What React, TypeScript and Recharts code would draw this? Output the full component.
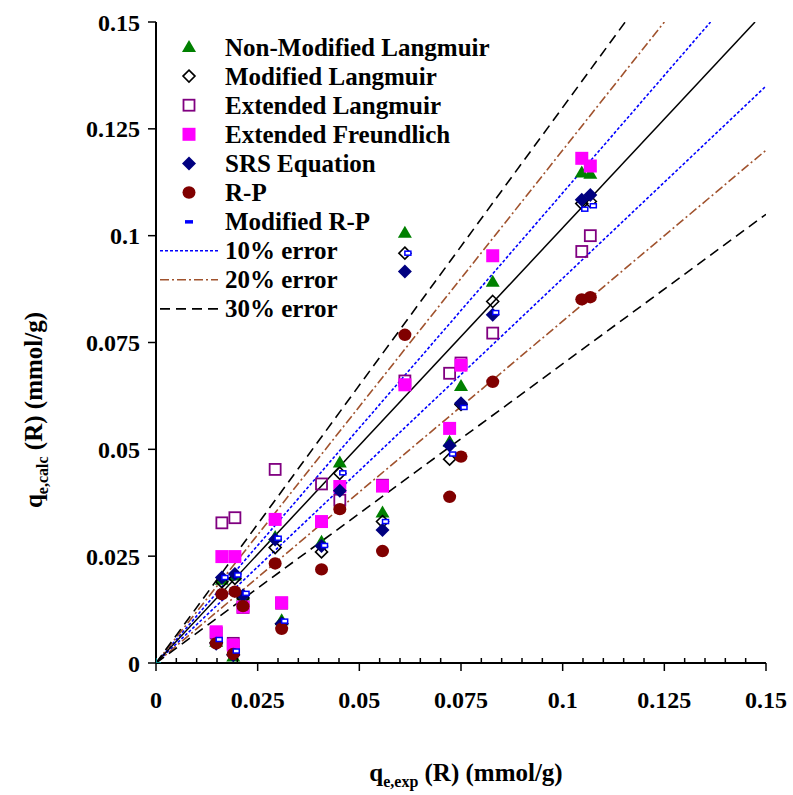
import React from 'react';
import { ScatterChart, Scatter, XAxis, YAxis, Legend, Label } from 'recharts';

// experimental q_e (R), mmol/g
const qExp = [0.0148, 0.0162, 0.019, 0.0194, 0.0214, 0.0293, 0.0309, 0.0407, 0.0452, 0.0557, 0.0612, 0.0722, 0.075, 0.0828, 0.1047, 0.1068];

// calculated q_e (R) for each model
const nonModLangmuir = [0.005, 0.0195, 0.0015, 0.0205, 0.0158, 0.0295, 0.01, 0.0284, 0.0469, 0.0352, 0.1007, 0.0518, 0.0648, 0.0892, 0.1148, 0.1145];
const modLangmuir = [0.0048, 0.019, 0.002, 0.0198, 0.0152, 0.027, 0.0092, 0.026, 0.0444, 0.0331, 0.0959, 0.0477, 0.0605, 0.0846, 0.1075, 0.108];
const extLangmuir = [0.007, 0.0328, 0.0046, 0.034, 0.013, 0.0453, 0.014, 0.0419, 0.0381, 0.0416, 0.066, 0.0678, 0.0702, 0.0772, 0.0963, 0.1];
const extFreundlich = [0.0073, 0.0249, 0.0042, 0.0249, 0.0131, 0.0336, 0.0141, 0.0331, 0.0413, 0.0414, 0.0651, 0.0549, 0.0697, 0.0953, 0.1181, 0.1163];
const srsEquation = [0.0045, 0.02, 0.0018, 0.0208, 0.0158, 0.0289, 0.0092, 0.0274, 0.0403, 0.0311, 0.0916, 0.0509, 0.0608, 0.0815, 0.1084, 0.1095];
const rpModel = [0.0046, 0.0161, 0.0021, 0.0167, 0.0133, 0.0233, 0.008, 0.0219, 0.036, 0.0262, 0.0768, 0.0389, 0.0483, 0.0658, 0.0851, 0.0856];
const modRP = [0.0055, 0.02, 0.0028, 0.0206, 0.0163, 0.0292, 0.0098, 0.0275, 0.0445, 0.0331, 0.0959, 0.0489, 0.0598, 0.082, 0.1062, 0.107];

const originPoint = [{ x: 0, y: 0 }];

const axisMax = 0.15;
const majorTicks = [0, 0.025, 0.05, 0.075, 0.1, 0.125, 0.15];
const minorStep = 0.005;
const xTicksAll = Array.from({ length: 31 }, (_, i) => Math.round(i * minorStep * 1000) / 1000);

const parityEnd = { x: 0.1473, y: 0.15 };
const errorSlopes = [1.1, 0.9, 1.2, 0.8, 1.3, 0.7];

const seriesNames = [
  'Non-Modified Langmuir',
  'Modified Langmuir',
  'Extended Langmuir',
  'Extended Freundlich',
  'SRS Equation',
  'R-P',
  'Modified R-P',
];
const lineNames = ['10% error', '20% error', '30% error'];

const FONT = "'Liberation Serif', 'Times New Roman', Times, serif";

const toPoints = (ys: number[]) => qExp.map((x, i) => ({ x, y: ys[i] }));
const lineEnd = (k: number) => (k > 1 ? { x: axisMax / k, y: axisMax } : { x: axisMax, y: axisMax * k });

type MarkerType = 'tri' | 'odiamond' | 'osquare' | 'fsquare' | 'fdiamond' | 'circle' | 'dash' | 'dashLegend' | 'cross';

const Marker = ({ type, cx, cy }: { type: MarkerType; cx: number; cy: number }) => {
  switch (type) {
    case 'tri':
      return <polygon points={`${cx},${cy - 7} ${cx - 7},${cy + 5} ${cx + 7},${cy + 5}`} fill="#008000" />;
    case 'odiamond':
      return <polygon points={`${cx},${cy - 6} ${cx + 6},${cy} ${cx},${cy + 6} ${cx - 6},${cy}`} fill="none" stroke="#000" strokeWidth={1.6} />;
    case 'osquare':
      return <rect x={cx - 5.5} y={cy - 5.5} width={11} height={11} fill="none" stroke="#800080" strokeWidth={1.8} />;
    case 'fsquare':
      return <rect x={cx - 6.5} y={cy - 6.5} width={13} height={13} fill="#FF00FF" />;
    case 'fdiamond':
      return <polygon points={`${cx},${cy - 7} ${cx + 7},${cy} ${cx},${cy + 7} ${cx - 7},${cy}`} fill="#000080" />;
    case 'circle':
      return <ellipse cx={cx} cy={cy} rx={6.5} ry={6.2} fill="#800000" />;
    case 'dash':
      return <rect x={cx} y={cy - 2} width={6} height={4} fill="#fff" stroke="#0000FF" strokeWidth={1.5} />;
    case 'dashLegend':
      return <rect x={cx - 4} y={cy - 1.5} width={8} height={3.5} fill="#0000FF" />;
    case 'cross':
      return (
        <g stroke="#008080" strokeWidth={2}>
          <line x1={cx - 5} x2={cx + 5} y1={cy} y2={cy} />
          <line x1={cx} x2={cx} y1={cy - 5} y2={cy + 5} />
        </g>
      );
    default:
      return null;
  }
};

const markerTypes: MarkerType[] = ['tri', 'odiamond', 'osquare', 'fsquare', 'fdiamond', 'circle', 'dash'];
const legendMarkerTypes: MarkerType[] = ['tri', 'odiamond', 'osquare', 'fsquare', 'fdiamond', 'circle', 'dashLegend'];
const seriesData = [nonModLangmuir, modLangmuir, extLangmuir, extFreundlich, srsEquation, rpModel, modRP];

const lineStyles = [
  { stroke: '#0000FF', strokeWidth: 1.6, strokeDasharray: '3 2' },
  { stroke: '#A0522D', strokeWidth: 1.6, strokeDasharray: '9 3 2 3' },
  { stroke: '#000000', strokeWidth: 1.6, strokeDasharray: '10 6' },
];

const isMajor = (v: number) => Math.abs(v / 0.025 - Math.round(v / 0.025)) < 1e-6;

const XTick = (props: any) => {
  const { x, y, payload } = props;
  const v = payload.value as number;
  const major = isMajor(v);
  return (
    <g>
      <line x1={x} x2={x} y1={y} y2={major ? y + 8 : y - 5} stroke="#000" strokeWidth={1.5} />
      {major && (
        <text x={x} y={y + 45} textAnchor="middle" fontFamily={FONT} fontWeight="bold" fontSize={24} fill="#000">
          {String(v)}
        </text>
      )}
    </g>
  );
};

const LegendContent = () => {
  const ox = 150;
  const oy = 30;
  const rowY = (i: number) => 47 + i * 29.1 - oy;
  return (
    <svg width={360} height={300} style={{ display: 'block', overflow: 'visible' }}>
      {seriesNames.map((name, i) => (
        <g key={name}>
          <Marker type={legendMarkerTypes[i]} cx={189 - ox} cy={rowY(i)} />
          <text x={225 - ox} y={rowY(i) + 8.5} fontFamily={FONT} fontWeight="bold" fontSize={25} fill="#000">
            {name}
          </text>
        </g>
      ))}
      {lineNames.map((name, j) => {
        const i = j + 7;
        return (
          <g key={name}>
            <line x1={160 - ox} x2={218 - ox} y1={rowY(i)} y2={rowY(i)} {...lineStyles[j]} />
            <text x={225 - ox} y={rowY(i) + 8.5} fontFamily={FONT} fontWeight="bold" fontSize={25} fill="#000">
              {name}
            </text>
          </g>
        );
      })}
    </svg>
  );
};

const emptyShape = () => <g />;

export default function App() {
  const axisLine = { stroke: '#000', strokeWidth: 2 };
  return (
    <div style={{ width: 793, height: 795, background: '#fff' }}>
      <style>{`body{margin:0;background:#fff}`}</style>
      <ScatterChart width={793} height={795} margin={{ top: 22, right: 27, bottom: 72, left: 76 }}>
        <XAxis
          type="number"
          dataKey="x"
          domain={[0, axisMax]}
          ticks={xTicksAll}
          interval={0}
          tickLine={false}
          tickSize={0}
          tickMargin={0}
          tick={<XTick />}
          axisLine={axisLine}
          height={60}
          allowDataOverflow
        >
          <Label
            content={() => (
              <text x={466} y={781} textAnchor="middle" fontFamily={FONT} fontWeight="bold" fontSize={25} fill="#000">
                <tspan>q</tspan>
                <tspan fontSize={16} dy={6}>e,exp</tspan>
                <tspan dy={-6}> (R) (mmol/g)</tspan>
              </text>
            )}
          />
        </XAxis>
        <YAxis
          type="number"
          dataKey="y"
          domain={[0, axisMax]}
          ticks={majorTicks}
          interval={0}
          tickSize={8}
          tickMargin={8}
          tickLine={{ stroke: '#000', strokeWidth: 1.5 }}
          axisLine={axisLine}
          tick={{ fontFamily: FONT, fontWeight: 'bold', fontSize: 24, fill: '#000' }}
          tickFormatter={(v: number) => String(v)}
          width={80}
          allowDataOverflow
        >
          <Label
            content={() => (
              <text
                x={42}
                y={410}
                transform="rotate(-90, 42, 410)"
                textAnchor="middle"
                fontFamily={FONT}
                fontWeight="bold"
                fontSize={25}
                fill="#000"
              >
                <tspan>q</tspan>
                <tspan fontSize={16} dy={6}>e,calc</tspan>
                <tspan dy={-6}> (R) (mmol/g)</tspan>
              </text>
            )}
          />
        </YAxis>
        <XAxis
          xAxisId="top"
          orientation="top"
          type="number"
          domain={[0, axisMax]}
          tick={false}
          tickLine={false}
          axisLine={axisLine}
          height={0}
        />
        <YAxis
          yAxisId="right"
          orientation="right"
          type="number"
          domain={[0, axisMax]}
          tick={false}
          tickLine={false}
          axisLine={axisLine}
          width={0}
        />

        {errorSlopes.map((k, i) => {
          const st = lineStyles[Math.floor(i / 2)];
          return (
            <Scatter
              key={`err-${k}`}
              data={[{ x: 0, y: 0 }, lineEnd(k)]}
              fill={st.stroke}
              line={{ ...st }}
              shape={emptyShape}
              legendType="none"
              isAnimationActive={false}
            />
          );
        })}
        <Scatter
          data={[{ x: 0, y: 0 }, parityEnd]}
          fill="#000"
          line={{ stroke: '#000', strokeWidth: 1.5 }}
          shape={emptyShape}
          legendType="none"
          isAnimationActive={false}
        />

        {seriesData.map((ys, i) => (
          <Scatter
            key={seriesNames[i]}
            name={seriesNames[i]}
            data={toPoints(ys)}
            shape={(p: any) => <Marker type={markerTypes[i]} cx={p.cx} cy={p.cy} />}
            isAnimationActive={false}
          />
        ))}
        <Scatter
          data={originPoint}
          shape={(p: any) => <Marker type="cross" cx={p.cx} cy={p.cy} />}
          legendType="none"
          isAnimationActive={false}
        />

        <Legend
          layout="vertical"
          align="center"
          verticalAlign="middle"
          content={() => <LegendContent />}
          wrapperStyle={{ left: 150, top: 30, width: 360, height: 300 }}
        />
      </ScatterChart>
    </div>
  );
}
